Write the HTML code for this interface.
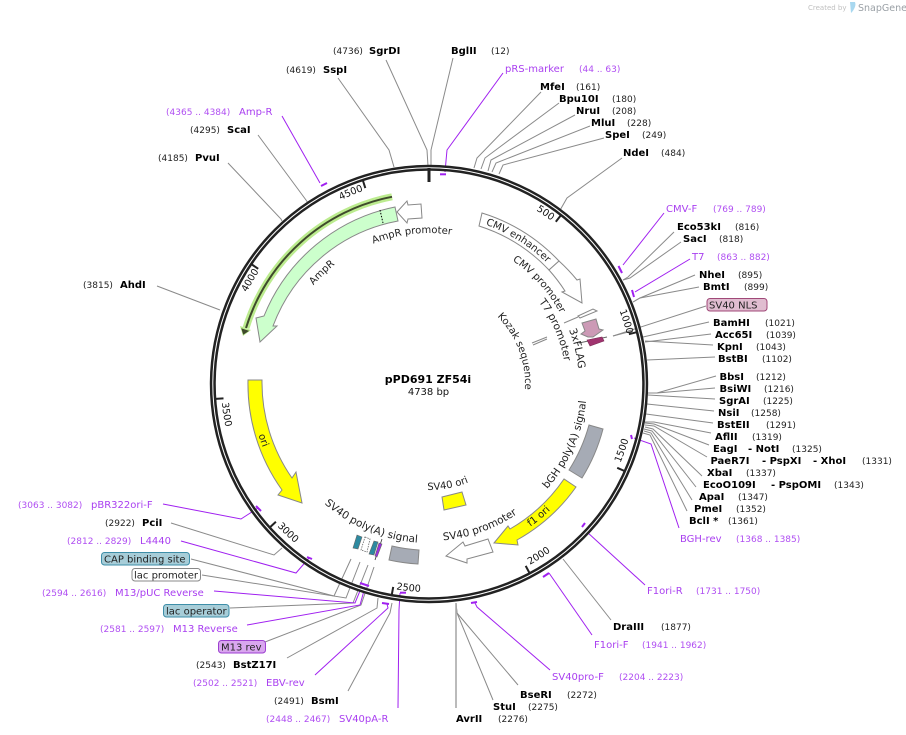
<!DOCTYPE html>
<html><head><meta charset="utf-8"><style>
html,body{margin:0;padding:0;background:#fff;width:906px;height:735px;overflow:hidden}
svg{display:block}
text{font-family:"DejaVu Sans","Liberation Sans",sans-serif;font-size:10px;fill:#111}
.b{font-weight:700;fill:#000}
.n{font-size:9px;fill:#222}
.p{fill:#a93ff0}
.q{font-size:9px;fill:#b04ff2}
.g{fill:none;stroke:#8a8a8a;stroke-width:1}
.v{fill:none;stroke:#a020f0;stroke-width:1}
.t{fill:none;stroke:#a020f0;stroke-width:2}
.k{stroke:#222;stroke-width:2}
.f{stroke:#888;stroke-width:1}
.l{font-size:10px;fill:#222}
.m{font-size:10.5px;fill:#222}
.i{font-size:9.7px;fill:#111}
</style></head><body>
<svg width="906" height="735" viewBox="0 0 906 735" xmlns="http://www.w3.org/2000/svg">
<defs>
<path id="c204" d="M429 588A204 204 0 1 1 429.1 588"/>
<path id="c169" d="M429 553A169 169 0 1 1 429.1 553"/>
<path id="c149" d="M429 533A149 149 0 1 1 429.1 533"/>
<path id="c137" d="M429 521A137 137 0 1 1 429.1 521"/>
<path id="c150" d="M429 534A150 150 0 1 1 429.1 534"/>
<path id="c96" d="M429 480A96 96 0 1 1 429.1 480"/>
<path id="c151" d="M429 535A151 151 0 1 1 429.1 535"/>
<path id="c152" d="M429 536A152 152 0 1 1 429.1 536"/>
<path id="a207" d="M429 177A207 207 0 1 0 429.1 177"/>
<path id="a208" d="M429 176A208 208 0 1 0 429.1 176"/>
<path id="a175" d="M429 209A175 175 0 1 0 429.1 209"/>
<path id="a178" d="M429 206A178 178 0 1 0 429.1 206"/>
<path id="a157" d="M429 227A157 157 0 1 0 429.1 227"/>
<path id="a158" d="M429 226A158 158 0 1 0 429.1 226"/>
<path id="a106" d="M429 278A106 106 0 1 0 429.1 278"/>
<path id="a159" d="M429 225A159 159 0 1 0 429.1 225"/>
</defs>

<!-- logo -->
<text x="808" y="10" style="font-size:7px;fill:#c0c0c0">Created by</text>
<path d="M850 2h5c1 3 0 5-1 7 -1 2-2 3-3 4z" fill="#a8d8f0"/>
<text x="858" y="11" style="font-size:9.5px;fill:#9aa0a6">SnapGene</text>

<!-- leader lines gray -->
<g class="g">
<polyline points="386,60 427,150 428,166"/>
<polyline points="453,58 431,150 431,166"/>
<polyline points="338,78 389,150 394,167"/>
<polyline points="258,135 306,200 308,203"/>
<polyline points="228,163 281,219 282,221"/>
<polyline points="157,286 220,310"/>
<polyline points="541,92 477,158 474,168"/>
<polyline points="559,103 485,158 481,169"/>
<polyline points="575,115 491,160 488,171"/>
<polyline points="590,126 496,163 492,172"/>
<polyline points="604,138 503,165 499,174"/>
<polyline points="622,158 567,198 559,212"/>
<polyline points="674,232 628,277 623,280"/>
<polyline points="681,242 630,278 623,280"/>
<polyline points="695,275 640,298 633,302"/>
<polyline points="699,287 640,298 633,302"/>
<polyline points="706,306 613,336"/>
<polyline points="709,322 643,337"/>
<polyline points="711,334 645,342"/>
<polyline points="713,345 645,341"/>
<polyline points="715,357 647,360"/>
<polyline points="716,376 657,393 648,393"/>
<polyline points="715,388 657,393 648,393"/>
<polyline points="715,399 648,395"/>
<polyline points="714,411 647,404"/>
<polyline points="713,423 646,414"/>
<polyline points="711,433 654,422 645,422"/>
<polyline points="709,445 654,424 645,423"/>
<polyline points="707,457 654,426 645,425"/>
<polyline points="702,476 653,429 645,427"/>
<polyline points="696,487 652,431 644,429"/>
<polyline points="692,500 651,433 644,431"/>
<polyline points="687,511 650,435 643,433"/>
<polyline points="611,620 563,559"/>
<polyline points="518,685 457,613 456,603"/>
<polyline points="493,700 457,613 456,603"/>
<polyline points="456,708 456,603" style="stroke:#aaa;stroke-width:1.6"/>
<polyline points="348,691 390,613 392,603"/>
<polyline points="287,658 377,608 378,598"/>
<polyline points="265,642 361,605 374,567"/>
<polyline points="230,608 353,603 368,565"/>
<polyline points="202,575 346,598 360,562"/>
<polyline points="191,559 334,596 351,559"/>
<polyline points="171,523 274,555 282,548"/>
<polyline points="564,323 578,317"/>
<polyline points="613,336 632,331"/>
</g>

<!-- primers -->
<g class="v">
<polyline points="282,116 320,183"/>
<polyline points="503,73 447,150 445,172"/>
<polyline points="664,213 623,265"/>
<polyline points="690,259 635,292"/>
<polyline points="679,528 651,444 634,438"/>
<polyline points="645,585 587,532"/>
<polyline points="592,635 549,573"/>
<polyline points="550,670 477,607 475,603"/>
<polyline points="398,708 399,610 400,593"/>
<polyline points="315,675 388,608 387,604"/>
<polyline points="247,625 360,605 365,587"/>
<polyline points="214,591 355,603 362,586"/>
<polyline points="181,541 296,573 309,558"/>
<polyline points="163,504 241,519 258,508"/>
</g>
<g class="t">
<path d="M321 186L327 183"/><path d="M440 174.3H446"/><path d="M618.5 266L622 273"/><path d="M632 290L634 297"/>
<path d="M631 435L632 439"/><path d="M582 527L585 523"/><path d="M543 577L549 573"/><path d="M471 603L477 602"/>
<path d="M400 592.7H406"/><path d="M382 603L389 604"/><path d="M360 583L369 586"/><path d="M307 557L312 559"/><path d="M256 506L261 511"/>
</g>

<!-- ring -->
<circle cx="429" cy="384" r="216.2" fill="none" stroke="#222" stroke-width="6"/>
<circle cx="429" cy="384" r="216.2" fill="none" stroke="#fff" stroke-width="1"/>

<!-- ticks -->
<path d="M429 168V182" stroke="#222" stroke-width="3"/>
<g class="k">
<path d="M555.8 221.7L560.8 215.4"/><path d="M628.9 334.2L636.6 332.2"/><path d="M617.2 467.8L624.5 471"/>
<path d="M525.7 565.9L529.5 573"/><path d="M393.2 586.9L391.8 594.7"/><path d="M275.9 521.8L270 527.2"/>
<path d="M223.5 398.4L215.5 398.9"/><path d="M258.2 268.8L251.6 264.3"/><path d="M365.3 188.1L362.9 180.5"/>
</g>
<text class="i"><textPath href="#c204" startOffset="753">500</textPath></text>
<text class="i"><textPath href="#c204" startOffset="886">1000</textPath></text>
<text class="i"><textPath href="#a207" startOffset="894">1500</textPath></text>
<text class="i"><textPath href="#a207" startOffset="755">2000</textPath></text>
<text class="i"><textPath href="#a208" startOffset="620">2500</textPath></text>
<text class="i"><textPath href="#a208" startOffset="483">3000</textPath></text>
<text class="i"><textPath href="#a208" startOffset="345">3500</textPath></text>
<text class="i"><textPath href="#c204" startOffset="415">4000</textPath></text>
<text class="i"><textPath href="#c204" startOffset="549">4500</textPath></text>

<!-- green ORF arc -->
<path d="M392 196.8A191 191 0 0 0 246 328" fill="none" stroke="#bcec8f" stroke-width="7"/>
<path d="M240 326L243 336L251 330Z" fill="#bcec8f"/>
<path d="M392 196.8A191 191 0 0 0 246 328" fill="none" stroke="#3f4a2c" stroke-width="2"/>
<path d="M242 329L243.5 334L248 331Z" fill="#3f4a2c" stroke="#3f4a2c"/>

<!-- features -->
<path class="f" fill="#ccffcc" d="M395 207A180 180 0 0 0 264 316L256 318L260 342L277 326L273 326A166 166 0 0 1 398 221Z"/>
<path d="M380 210L383 223" stroke="#000" stroke-width="1" stroke-dasharray="1.5 1.5"/>
<path class="f" fill="#fff" d="M397 212L407 201L408 205L421 204L422 218L408 219L407 223Z"/>
<path class="f" fill="#ffff00" d="M248 380A182 182 0 0 0 282 490L278 495L302 503L296 472L292 478A167 167 0 0 1 262 380Z"/>
<path class="f" fill="#ffff00" d="M576 487A179 179 0 0 1 517 540L518 545L494 543L508 526L510 529A165 165 0 0 0 564 479Z"/>
<path class="f" fill="#a6abb5" d="M603 429A179 179 0 0 1 582 478L569 470A165 165 0 0 0 589 425Z"/>
<path class="f" fill="#a6abb5" d="M419 550L418 564A180 180 0 0 1 389 560L392 546A165 165 0 0 0 419 550Z"/>
<path class="f" fill="#fff" d="M488 539L465 546L463 542L446 556L467 563L467 559L493 552Z"/>
<path class="f" fill="#ffff00" d="M442 497L462 492L466 505L444 510Z"/>
<path class="f" fill="#fff" d="M482 213A179 179 0 0 1 559 261L549 270A165 165 0 0 0 479 226Z"/>
<path class="f" fill="#fff" d="M559 261A179 179 0 0 1 577 280L580 279L582 303L562 292L565 291A165 165 0 0 0 549 270Z"/>
<path class="f" fill="#fff" d="M578 316L593 309L597 311L580 318Z"/>
<path class="f" fill="#cc9ab6" d="M582 323L596 319L599 329L603 330L593 337L588 337L581 334L585 331Z"/>
<path d="M579 343L607 337" stroke="#666" stroke-width="1"/>
<path fill="#a0336f" stroke="#7a2a55" stroke-width=".6" d="M587 340L602 337L604 341L590 346Z"/>
<path d="M532 343L547 337M533 345L547 339" stroke="#888" stroke-width="1" fill="none"/>
<path fill="#2d8aa0" stroke="#666" stroke-width=".6" d="M357 535L362 537L358 549L353 548Z"/>
<path fill="#fff" stroke="#666" stroke-width=".8" stroke-dasharray="1.5 1" d="M365 537L370 539L367 552L361 550Z"/>
<path fill="#2d8aa0" stroke="#666" stroke-width=".6" d="M374 541L378 542L374 555L369 554Z"/>
<path d="M382 539L375 560" stroke="#333" stroke-width=".8"/>
<path fill="#9a30e0" stroke="#666" stroke-width=".6" d="M379 543L382 544L377 557L375 556Z"/>

<!-- feature labels -->
<text class="l"><textPath href="#c151" startOffset="417">AmpR promoter</textPath></text>
<text class="l"><textPath href="#c152" startOffset="346">AmpR</textPath></text>
<text class="l"><textPath href="#c169" startOffset="588">CMV enhancer</textPath></text>
<text class="l"><textPath href="#c149" startOffset="556">CMV promoter</textPath></text>
<text class="m"><textPath href="#c137" startOffset="557">T7 promoter</textPath></text>
<text class="m"><textPath href="#c150" startOffset="651">3xFLAG</textPath></text>
<text class="l"><textPath href="#c96" startOffset="377">Kozak sequence</textPath></text>
<text class="l"><textPath href="#a175" startOffset="657">f1 ori</textPath></text>
<text class="l"><textPath href="#a178" startOffset="331">ori</textPath></text>
<text class="m"><textPath href="#a157" startOffset="507">SV40 promoter</textPath></text>
<text class="m"><textPath href="#a158" startOffset="629">bGH poly(A) signal</textPath></text>
<text class="l"><textPath href="#a106" startOffset="331">SV40 ori</textPath></text>
<text class="m"><textPath href="#a159" startOffset="385">SV40 poly(A) signal</textPath></text>

<!-- center -->
<text x="428" y="383" text-anchor="middle" class="b" style="font-size:11px">pPD691 ZF54i</text>
<text x="428.5" y="395" text-anchor="middle" style="font-size:10px">4738 bp</text>

<!-- top labels -->
<text class="n" x="333" y="54">(4736)</text><text class="b" x="369" y="54">SgrDI</text>
<text class="b" x="451" y="54">BglII</text><text class="n" x="491" y="54">(12)</text>
<text class="p" x="505" y="72">pRS-marker</text><text class="q" x="579" y="72">(44 .. 63)</text>
<text class="n" x="286" y="73">(4619)</text><text class="b" x="323" y="73">SspI</text>
<text class="b" x="540" y="90">MfeI</text><text class="n" x="576" y="90">(161)</text>
<text class="b" x="559" y="102">Bpu10I</text><text class="n" x="612" y="102">(180)</text>
<text class="b" x="576" y="114">NruI</text><text class="n" x="612" y="114">(208)</text>
<text class="b" x="591" y="126">MluI</text><text class="n" x="627" y="126">(228)</text>
<text class="b" x="605" y="138">SpeI</text><text class="n" x="642" y="138">(249)</text>
<text class="b" x="623" y="156">NdeI</text><text class="n" x="661" y="156">(484)</text>

<text class="q" x="166" y="115">(4365 .. 4384)</text><text class="p" x="239" y="115">Amp-R</text>
<text class="n" x="190" y="133">(4295)</text><text class="b" x="227" y="133">ScaI</text>
<text class="n" x="158" y="161">(4185)</text><text class="b" x="195" y="161">PvuI</text>
<text class="n" x="83" y="288">(3815)</text><text class="b" x="120" y="288">AhdI</text>

<!-- right labels -->
<text class="p" x="666" y="212">CMV-F</text><text class="q" x="713" y="212">(769 .. 789)</text>
<text class="b" x="677" y="230">Eco53kI</text><text class="n" x="735" y="230">(816)</text>
<text class="b" x="683" y="242">SacI</text><text class="n" x="719" y="242">(818)</text>
<text class="p" x="692" y="260">T7</text><text class="q" x="717" y="260">(863 .. 882)</text>
<text class="b" x="699" y="278">NheI</text><text class="n" x="738" y="278">(895)</text>
<text class="b" x="703" y="290">BmtI</text><text class="n" x="744" y="290">(899)</text>
<rect x="707" y="298.5" width="60" height="12.5" rx="3" fill="#e0bdd0" stroke="#a04878"/>
<text x="709" y="308.5" style="font-size:10px;fill:#222">SV40 NLS</text>
<text class="b" x="713" y="326">BamHI</text><text class="n" x="765" y="326">(1021)</text>
<text class="b" x="715" y="338">Acc65I</text><text class="n" x="766" y="338">(1039)</text>
<text class="b" x="717" y="350">KpnI</text><text class="n" x="756" y="350">(1043)</text>
<text class="b" x="718" y="362">BstBI</text><text class="n" x="762" y="362">(1102)</text>
<text class="b" x="719.5" y="380">BbsI</text><text class="n" x="756" y="380">(1212)</text>
<text class="b" x="719.5" y="392">BsiWI</text><text class="n" x="764" y="392">(1216)</text>
<text class="b" x="719" y="404">SgrAI</text><text class="n" x="763" y="404">(1225)</text>
<text class="b" x="718" y="416">NsiI</text><text class="n" x="751" y="416">(1258)</text>
<text class="b" x="717" y="428">BstEII</text><text class="n" x="766" y="428">(1291)</text>
<text class="b" x="715" y="440">AflII</text><text class="n" x="752" y="440">(1319)</text>
<text class="b" x="713" y="452">EagI</text><text class="b" x="748" y="452">- NotI</text><text class="n" x="792" y="452">(1325)</text>
<text class="b" x="710.5" y="464">PaeR7I</text><text class="b" x="762" y="464">- PspXI</text><text class="b" x="813" y="464">- XhoI</text><text class="n" x="862" y="464">(1331)</text>
<text class="b" x="707" y="476">XbaI</text><text class="n" x="746" y="476">(1337)</text>
<text class="b" x="703" y="488">EcoO109I</text><text class="b" x="771" y="488">- PspOMI</text><text class="n" x="834" y="488">(1343)</text>
<text class="b" x="699" y="500">ApaI</text><text class="n" x="738" y="500">(1347)</text>
<text class="b" x="694" y="512">PmeI</text><text class="n" x="736" y="512">(1352)</text>
<text class="b" x="689" y="524">BclI *</text><text class="n" x="728" y="524">(1361)</text>
<text class="p" x="680" y="542">BGH-rev</text><text class="q" x="736" y="542">(1368 .. 1385)</text>

<!-- bottom labels -->
<text class="p" x="647" y="594">F1ori-R</text><text class="q" x="696" y="594">(1731 .. 1750)</text>
<text class="b" x="613" y="630">DraIII</text><text class="n" x="661" y="630">(1877)</text>
<text class="p" x="594" y="648">F1ori-F</text><text class="q" x="642" y="648">(1941 .. 1962)</text>
<text class="p" x="552" y="680">SV40pro-F</text><text class="q" x="619" y="680">(2204 .. 2223)</text>
<text class="b" x="520" y="698">BseRI</text><text class="n" x="567" y="698">(2272)</text>
<text class="b" x="493" y="710">StuI</text><text class="n" x="528" y="710">(2275)</text>
<text class="b" x="456" y="722">AvrII</text><text class="n" x="498" y="722">(2276)</text>
<text class="q" x="266" y="722">(2448 .. 2467)</text><text class="p" x="339" y="722">SV40pA-R</text>
<text class="n" x="274" y="704">(2491)</text><text class="b" x="311" y="704">BsmI</text>
<text class="q" x="193" y="686">(2502 .. 2521)</text><text class="p" x="266" y="686">EBV-rev</text>
<text class="n" x="196" y="668">(2543)</text><text class="b" x="233" y="668">BstZ17I</text>

<rect x="218.5" y="640.5" width="47" height="12.5" rx="3" fill="#d9a6ef" stroke="#9c3fd0"/>
<text x="221" y="650.5" style="font-size:10px;fill:#222">M13 rev</text>
<text class="q" x="100" y="632">(2581 .. 2597)</text><text class="p" x="173" y="632">M13 Reverse</text>
<rect x="163.5" y="604.5" width="65.5" height="12.5" rx="3" fill="#a7cdd8" stroke="#3e8ea8"/>
<text x="166" y="614.5" style="font-size:10px;fill:#222">lac operator</text>
<text class="q" x="42" y="596">(2594 .. 2616)</text><text class="p" x="115" y="596">M13/pUC Reverse</text>
<rect x="132" y="568.5" width="68.5" height="12.5" rx="3" fill="#fff" stroke="#888"/>
<text x="134" y="578.5" style="font-size:10px;fill:#222">lac promoter</text>
<rect x="101.5" y="552.5" width="88" height="12.5" rx="3" fill="#a7cdd8" stroke="#3e8ea8"/>
<text x="104" y="562.5" style="font-size:10px;fill:#222">CAP binding site</text>
<text class="q" x="67" y="544">(2812 .. 2829)</text><text class="p" x="140" y="544">L4440</text>
<text class="n" x="105" y="526">(2922)</text><text class="b" x="142" y="526">PciI</text>
<text class="q" x="18" y="508">(3063 .. 3082)</text><text class="p" x="91" y="508">pBR322ori-F</text>
</svg>
</body></html>
